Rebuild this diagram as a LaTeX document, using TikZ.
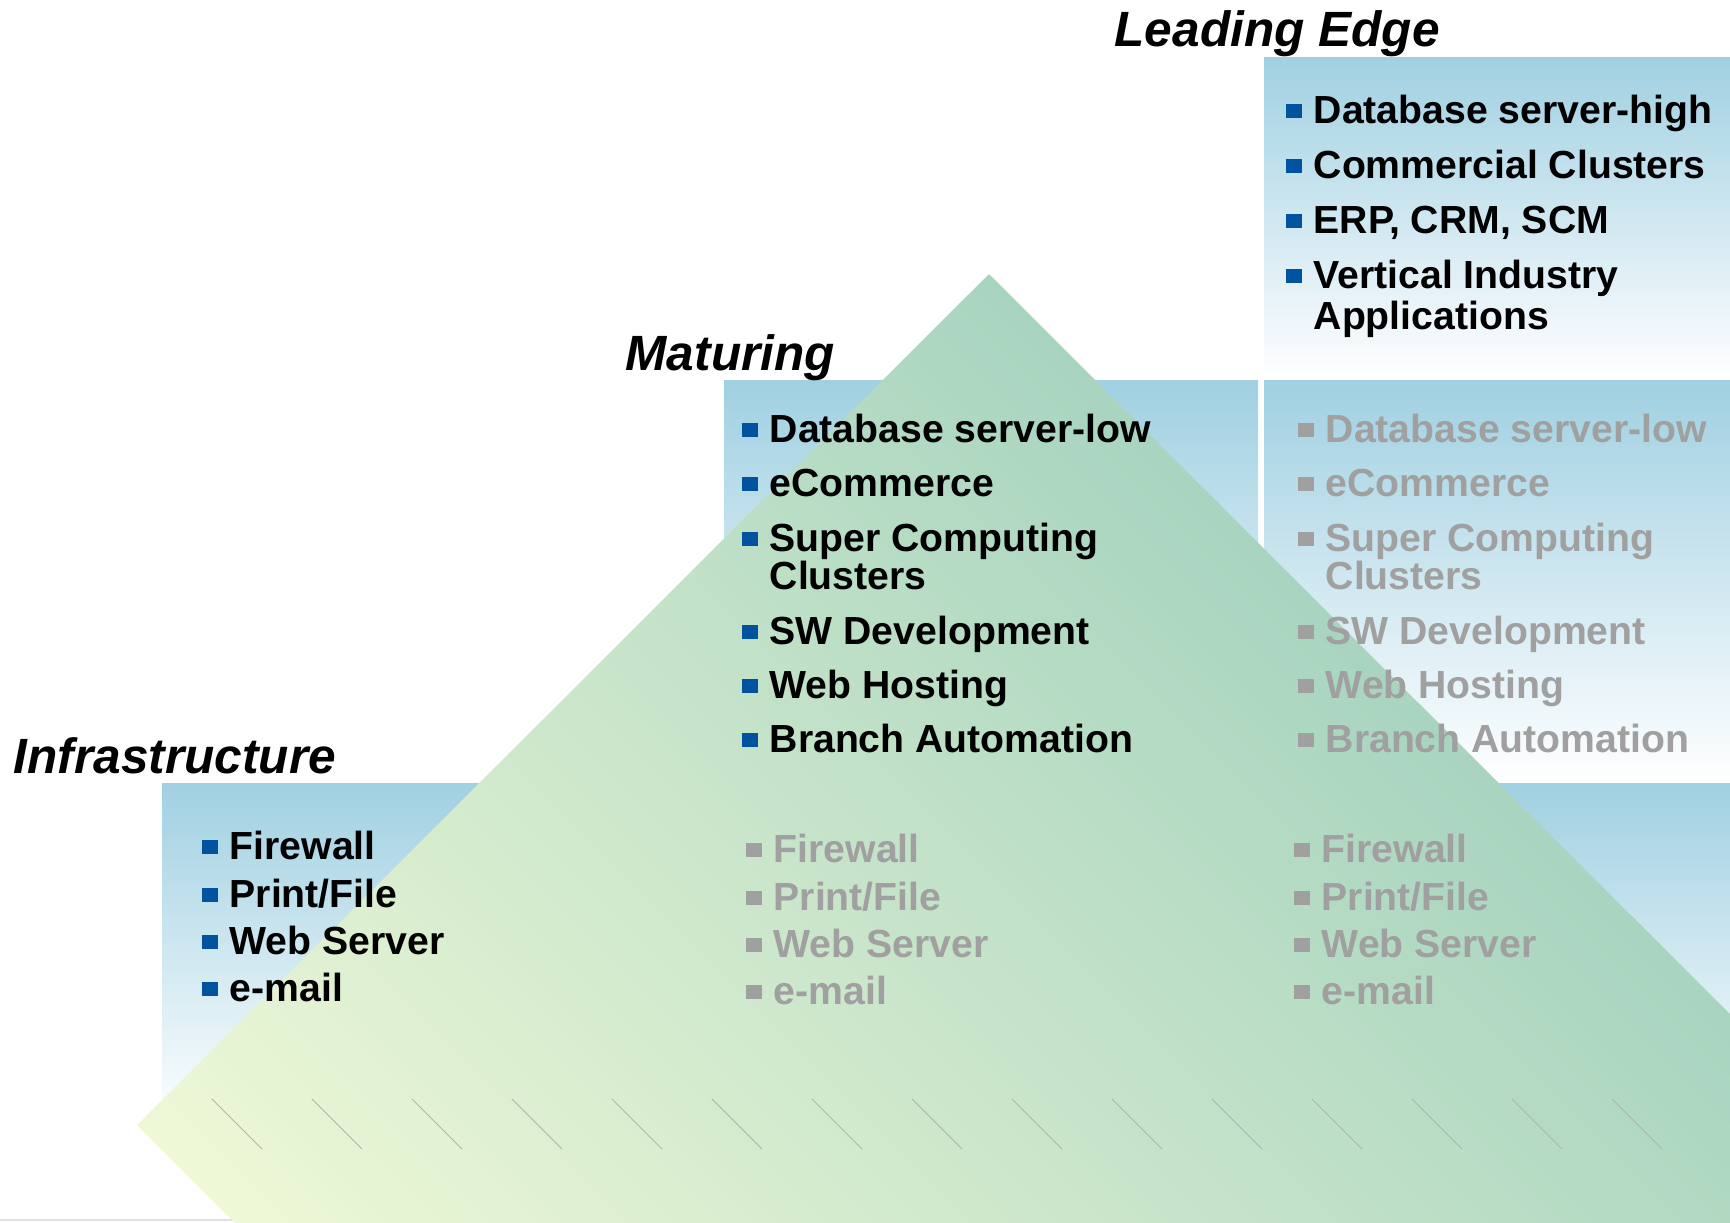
\documentclass[tikz,border=0pt]{standalone}
\usepackage{fontspec}
\setmainfont{Liberation Sans}
\definecolor{boxblue}{RGB}{160,208,226}
\definecolor{dotblue}{RGB}{0,84,159}
\definecolor{fadegrey}{RGB}{160,160,160}
\definecolor{pyrlow}{RGB}{252,255,219}
\definecolor{pyrhigh}{RGB}{154,205,187}
\newcommand{\blt}[1]{\textcolor{#1}{\rule[0.55mm]{1.6mm}{1.4mm}}\hspace{1.2mm}}
\begin{document}
\begin{tikzpicture}[x=0.1mm, y=-0.1mm, line join=round, line cap=round,
		font=\fontsize{11.15}{13}\selectfont\bfseries,
		heading/.style={anchor=base west, inner sep=0pt, font=\fontsize{14.1}{16}\selectfont\bfseries\itshape},
		itm/.style={anchor=base west, inner sep=0pt},
		itmgrey/.style={itm, text=fadegrey},
		band/.style={top color=boxblue, bottom color=white}]
		\useasboundingbox (0,0) rectangle (1730,1222);
		\draw[line width=0.6pt, black!12] (0,1220) -- (1730,1220);
		\shade[band] (1264,57) rectangle (1730,380);
		\shade[band] (724,380) rectangle (1258,783);
		\shade[band] (1264,380) rectangle (1730,783);
		\shade[band] (162,783) rectangle (1730,1125);
		\begin{scope}
			\clip (0,0) rectangle (1730,1222);
			\shade[left color=pyrlow, right color=pyrhigh, shading angle=135] (989,274) -- (1841,1125) -- (989,1977) -- (137,1125) -- cycle;
		\end{scope}
		\foreach \k in {0,...,14}
			\draw[black!30, line width=0.25pt] (212+100*\k,1099) -- ++(50,50);
		\node[heading] (lead) at (1114,46) {Leading Edge};
		\node[heading] (mat) at (625,370) {Maturing};
		\node[heading] (infra) at (13,773) {Infrastructure};
		\foreach \t/\y [count=\i] in {Database server-high/123, Commercial Clusters/178, {ERP, CRM, SCM}/233, Vertical Industry/288}
			\node[itm] (le\i) at (1285,\y) {\blt{dotblue}\t};
		\node[itm] (le5) at (1313,329) {Applications};
		\foreach \t/\y [count=\i] in {Database server-low/442, eCommerce/496, Super Computing/551, SW Development/644, Web Hosting/698, Branch Automation/752}{
			\node[itm] (ma\i) at (741,\y) {\blt{dotblue}\t};
			\node[itmgrey] (mg\i) at (1297,\y) {\blt{fadegrey}\t};
		}
		\node[itm] (ma7) at (769,589) {Clusters};
		\node[itmgrey] (mg7) at (1325,589) {Clusters};
		\foreach \t/\y [count=\i] in {Firewall/859, {Print/File}/907, Web Server/954, e-mail/1001}{
			\node[itm] (in\i) at (201,\y) {\blt{dotblue}\t};
			\node[itmgrey] (ig\i) at (745,\y+3) {\blt{fadegrey}\t};
			\node[itmgrey] (ih\i) at (1293,\y+3) {\blt{fadegrey}\t};
		}
	\end{tikzpicture}
\end{document}
